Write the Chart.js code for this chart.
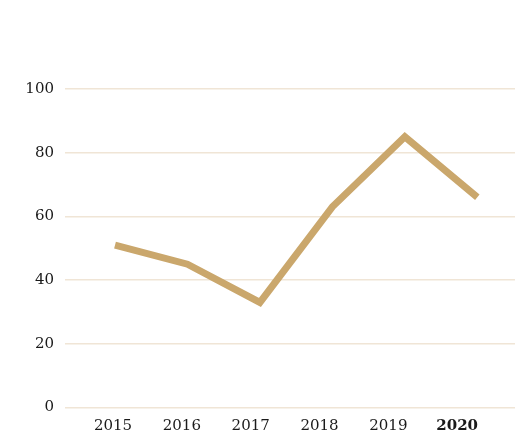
<!DOCTYPE html>
<html>
<head>
<meta charset="utf-8">
<script src="https://cdn.jsdelivr.net/npm/chart.js@4"></script>
<style>
    html, body { margin: 0; padding: 0; background: #fff; }
    #wrap { width: 520px; height: 432px; }
</style>
</head>
<body>
<div id="wrap"><canvas id="line_chart"></canvas></div>
<script>
const years = ['2015', '2016', '2017', '2018', '2019', '2020'];
const values = [51, 45, 33, 63, 85, 66];
const yTicks = [0, 20, 40, 60, 80, 100];

const fontFamily = '"DejaVu Serif", serif';
const lineColor = '#caa76c';
const gridColor = '#f0e5d6';

const ctx = document.getElementById('line_chart').getContext('2d');
new Chart(ctx, {
    type: 'line',
    data: {
        datasets: [{
            data: values.map((v, i) => ({x: i, y: v})),
            xAxisID: 'xd',
            borderColor: lineColor,
            borderWidth: 7,
            borderJoinStyle: 'miter',
            pointRadius: 0,
            tension: 0,
            fill: false
        }]
    },
    options: {
        responsive: true,
        maintainAspectRatio: false,
        animation: false,
        layout: {padding: {top: 89, right: 5, left: 0, bottom: 0}},
        plugins: {
            legend: {display: false},
            tooltip: {enabled: false}
        },
        scales: {
            // data axis, slightly wider spacing than the label axis
            xd: {
                type: 'linear',
                position: 'bottom',
                display: false,
                min: -0.69,
                max: 5.52
            },
            x: {
                type: 'linear',
                position: 'bottom',
                min: -0.698,
                max: 5.84,
                grid: {display: false},
                border: {display: false},
                afterBuildTicks: function (scale) {
                    scale.ticks = years.map((y, i) => ({value: i}));
                },
                afterFit: function (scale) {
                    scale.height = 24.5;
                },
                ticks: {
                    padding: 2,
                    color: '#1a1a1a',
                    maxRotation: 0,
                    autoSkip: false,
                    callback: function (value) {
                        return years[value];
                    },
                    font: function (c) {
                        return {
                            family: fontFamily,
                            size: 15,
                            weight: c.tick && c.tick.value === years.length - 1 ? 'bold' : 'normal'
                        };
                    }
                }
            },
            y: {
                min: 0,
                max: 100,
                afterBuildTicks: function (scale) {
                    scale.ticks = yTicks.map(v => ({value: v}));
                },
                afterFit: function (scale) {
                    scale.width = 65;
                },
                grid: {color: gridColor, lineWidth: 1.5, drawTicks: false},
                border: {display: false},
                ticks: {
                    padding: 11,
                    color: '#1a1a1a',
                    font: {family: fontFamily, size: 15}
                }
            }
        }
    }
});
</script>
</body>
</html>
